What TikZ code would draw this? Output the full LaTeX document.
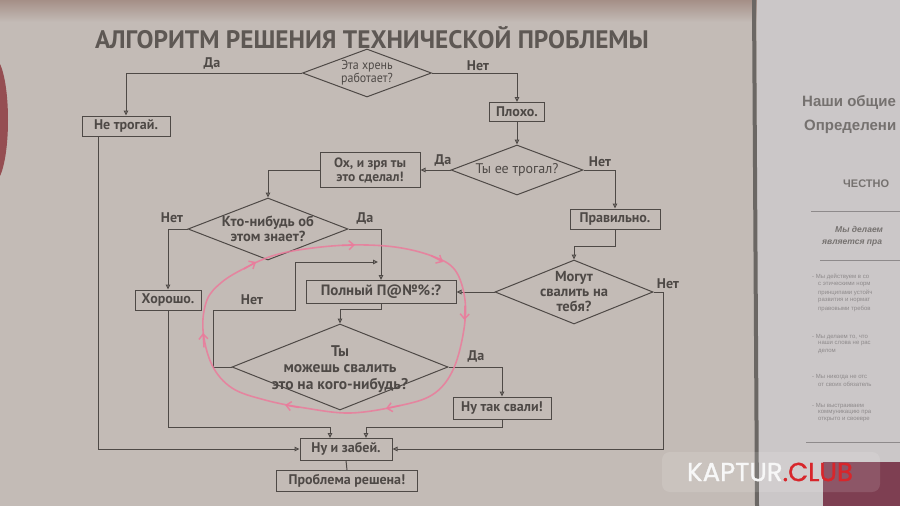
\documentclass[tikz,border=0pt]{standalone}
\usepackage{fontspec}
\setmainfont{PT Sans}
\newfontfamily\cond[FakeStretch=0.92]{PT Sans}
\newfontfamily\wmfont[FakeBold=1.2]{Poppins}
\newfontfamily\poster{Liberation Sans}
\usetikzlibrary{shapes.geometric,arrows.meta}
\definecolor{paper}{HTML}{C3BBB6}
\definecolor{paperR}{HTML}{CBC7C8}
\definecolor{ink}{HTML}{4E4946}
\definecolor{titleink}{HTML}{5E5854}
\definecolor{tipfill}{HTML}{D6CFCA}
\definecolor{pinkpen}{HTML}{EA7C9C}
\definecolor{wmred}{HTML}{D8262B}
\definecolor{greytext}{HTML}{75716F}
\definecolor{lightgrey}{HTML}{8E8A8B}
\definecolor{magentaband}{HTML}{7E3F52}
\definecolor{wallred}{HTML}{8A3339}
\definecolor{topband}{HTML}{A58F87}
\definecolor{wmwhite}{HTML}{F7F7F7}
\begin{document}
\begin{tikzpicture}[x=1pt,y=-1pt,
  box/.style={draw=ink, line width=1pt, fill=paper, inner sep=1.5pt, text=ink,
    font=\bfseries\fontsize{14}{15}\selectfont, minimum height=20pt, align=center},
  dia/.style={draw=ink, line width=1pt, shape=diamond, inner sep=0pt},
  dtext/.style={text=ink, align=center, inner sep=0pt},
  lab/.style={text=ink, font=\bfseries\fontsize{14}{15}\selectfont, inner sep=0pt},
  conn/.style={draw=ink, line width=1pt},
  arr/.style={conn, -{Triangle[length=5pt,width=4.5pt,fill=tipfill]}},
  pinkloop/.style={draw=pinkpen, line width=1.6pt, opacity=0.85},
  pinktip/.style={draw=pinkpen, line width=1.5pt, opacity=0.9, line cap=round,
    -{Straight Barb[length=5pt,width=9pt]}}
]
\useasboundingbox (0,0) rectangle (900,506);
% ---------- background ----------
\fill[paper] (0,0) rectangle (900,506);
\shade[top color=topband, bottom color=paper] (0,0) rectangle (760,22);
\fill[wallred, opacity=0.8] (-6,120) ellipse [x radius=14, y radius=62];
\fill[paperR] (757,0) rectangle (900,506);
\fill[black!45!paper] (752,0) -- (756,0) -- (759,506) -- (755,506) -- cycle;
% ---------- right poster ----------
\node[anchor=west, text=greytext, font=\poster\bfseries\fontsize{15}{16}\selectfont, inner sep=0pt] (rp1) at (802,102) {Наши общие};
\node[anchor=west, text=greytext, font=\poster\bfseries\fontsize{15}{16}\selectfont, inner sep=0pt] (rp2) at (804,127) {Определени};
\node[anchor=west, text=greytext, font=\poster\bfseries\fontsize{11}{12}\selectfont, inner sep=0pt] (rp3) at (843,184) {ЧЕСТНО};
\draw[lightgrey, line width=0.8pt] (811,211) -- (900,211);
\node[anchor=west, text=greytext, font=\poster\bfseries\itshape\fontsize{8.5}{9}\selectfont, inner sep=0pt] (rp4) at (835,229) {Мы делаем};
\node[anchor=west, text=greytext, font=\poster\bfseries\itshape\fontsize{8.5}{9}\selectfont, inner sep=0pt] (rp5) at (822,243) {является пра};
\draw[lightgrey, line width=0.8pt] (820,260) -- (900,260);
\begin{scope}[every node/.style={anchor=west, text=lightgrey, font=\poster\fontsize{6}{7}\selectfont, inner sep=0pt}]
\node (b1) at (812,277) {- Мы действуем в со};
\node (b2) at (818,285) {с этическими норм};
\node (b3) at (818,293) {принципами устойч};
\node (b4) at (818,301) {развития и нормат};
\node (b5) at (818,309) {правовыми требов};
\node (b6) at (812,337) {- Мы делаем то, что};
\node (b7) at (818,344) {наши слова не рас};
\node (b8) at (818,351) {делом};
\node (b9) at (812,377) {- Мы никогда не отс};
\node (b10) at (818,384) {от своих обязатель};
\node (b11) at (812,406) {- Мы выстраиваем};
\node (b12) at (818,413) {коммуникацию пра};
\node (b13) at (818,420) {открыто и своевре};
\end{scope}
\draw[lightgrey, line width=0.8pt] (806,442) -- (900,442);
\fill[magentaband] (823,462) rectangle (900,506);
% ---------- title ----------
\node[text=titleink, font=\bfseries\fontsize{25.3}{27}\selectfont, inner sep=0pt] (title) at (372,38) {АЛГОРИТМ РЕШЕНИЯ ТЕХНИЧЕСКОЙ ПРОБЛЕМЫ};
% ---------- flowchart nodes ----------
\node[dia, minimum width=129pt, minimum height=48pt] (d1) at (367,73) {};
\node[dtext, font=\cond\fontsize{13}{13}\selectfont] (t1) at (d1) {Эта хрень\\работает?};
\node[box, minimum width=88pt] (netrog) at (126,126) {Не трогай.};
\node[box, minimum width=55pt, minimum height=19pt] (ploho) at (517,112) {Плохо.};
\node[dia, minimum width=132pt, minimum height=50pt] (d2) at (517,170) {};
\node[dtext, font=\fontsize{14}{15}\selectfont] (t2) at (d2) {Ты ее трогал?};
\node[box, minimum width=100pt, minimum height=35pt, font=\bfseries\fontsize{13.5}{14}\selectfont] (oh) at (370,170) {Ох, и зря ты\\это сделал!};
\node[box, minimum width=90pt] (prav) at (615,219) {Правильно.};
\node[dia, minimum width=158pt, minimum height=64pt] (d3) at (574,292) {};
\node[dtext, font=\bfseries\fontsize{14.5}{15}\selectfont] (t3) at (d3) {Могут\\свалить на\\тебя?};
\node[dia, minimum width=160pt, minimum height=62pt] (d4) at (268,229) {};
\node[dtext, font=\bfseries\fontsize{14.5}{15}\selectfont] (t4) at (d4) {Кто-нибудь об\\этом знает?};
\node[box, minimum width=66pt] (horosho) at (168,300) {Хорошо.};
\node[box, minimum width=150pt, minimum height=23pt, font=\bfseries\fontsize{15}{16}\selectfont] (poln) at (381,292) {Полный П@№\%:?};
\node[dia, minimum width=216pt, minimum height=86pt] (d5) at (340,367) {};
\node[dtext, font=\bfseries\fontsize{15.5}{16.5}\selectfont] (t5) at ([yshift=-2pt]d5.center) {Ты\\можешь свалить\\это на кого-нибудь?};
\node[box, minimum width=98pt, minimum height=22pt] (nutak) at (502,408) {Ну так свали!};
\node[box, minimum width=92pt, minimum height=22pt] (zabei) at (346,449) {Ну и забей.};
\node[box, minimum width=141pt, minimum height=21pt] (resh) at (347,481) {Проблема решена!};
% ---------- labels ----------
\node[lab] (l1) at (212,63) {Да};
\node[lab] (l2) at (478,66) {Нет};
\node[lab] (l3) at (443,160) {Да};
\node[lab] (l4) at (600,162) {Нет};
\node[lab] (l5) at (172,218) {Нет};
\node[lab] (l6) at (365,218) {Да};
\node[lab] (l7) at (668,284) {Нет};
\node[lab] (l8) at (252,300) {Нет};
\node[lab] (l9) at (476,356) {Да};
% ---------- helper coordinates ----------
\coordinate (pr1) at (615,246);
\coordinate (r1) at (663,292);
\coordinate (lft) at (98,136);
\coordinate (hz) at (168,427);
\coordinate (zin1) at (330,438);
\coordinate (nz) at (502,427);
\coordinate (zin2) at (366,438);
\coordinate (lp1) at (213,367);
\coordinate (lp2) at (213,310);
\coordinate (lp3) at (295,310);
\coordinate (lp4) at (295,262);
\coordinate (mj) at (378,262);
% ---------- connectors ----------
\draw[arr] (d1.west) -| (netrog.north);
\draw[arr] (d1.east) -| (ploho.north);
\draw[arr] (ploho.south) -- (d2.north);
\draw[arr] (d2.west) -- (oh.east);
\draw[arr] (oh.west) -| (d4.north);
\draw[arr] (d2.east) -| (prav.north);
\draw[arr] (prav.south) -- (pr1) -| (d3.north);
\draw[arr] (d3.west) -- (poln.east);
\draw[arr] (d3.east) -- (r1) |- (zabei.east);
\draw[arr] (d4.west) -| (horosho.north);
\draw[arr] (d4.east) -| (poln.north);
\draw[arr] (horosho.south) -- (hz) -| (zin1);
\draw[arr] (nutak.south) -- (nz) -| (zin2);
\draw[arr] (lft) |- (zabei.west);
\draw[conn] (zabei.south) -- (resh.north);
\draw[arr] (poln.south) -- ++(0,5) -| (d5.north);
\draw[arr] (d5.west) -- (lp1) -- (lp2) -- (lp3) -- (lp4) -- (mj);
\draw[arr] (d5.east) -| (nutak.north);
% ---------- pink hand-drawn loop ----------
\draw[pinkloop] plot[smooth cycle, tension=0.6] coordinates {(203,330) (207,300) (222,282) (245,268) (272,256) (305,249) (350,245) (395,247) (432,256) (455,270) (465,300) (463,335) (452,372) (432,395) (398,406) (350,413) (305,408) (265,400) (232,388) (212,365)};
\draw[pinktip] (244,269) -- (256,262);
\draw[pinktip] (342,245.5) -- (355,245);
\draw[pinktip] (431,255.5) -- (443,262);
\draw[pinktip] (465,306) -- (464.5,320);
\draw[pinktip] (400,405.5) -- (386,408.5);
\draw[pinktip] (299,407.5) -- (285,405);
\draw[pinktip] (204,347) -- (203,333);
% ---------- watermark ----------
\fill[white, opacity=0.12, rounded corners=8pt] (662,452) rectangle (880,492);
\node[font=\wmfont\fontsize{26}{28}\selectfont, inner sep=0pt] (wm) at (770,472) {\textcolor{wmwhite}{KAPTUR}\textcolor{wmred}{.CLUB}};
\end{tikzpicture}
\end{document}
